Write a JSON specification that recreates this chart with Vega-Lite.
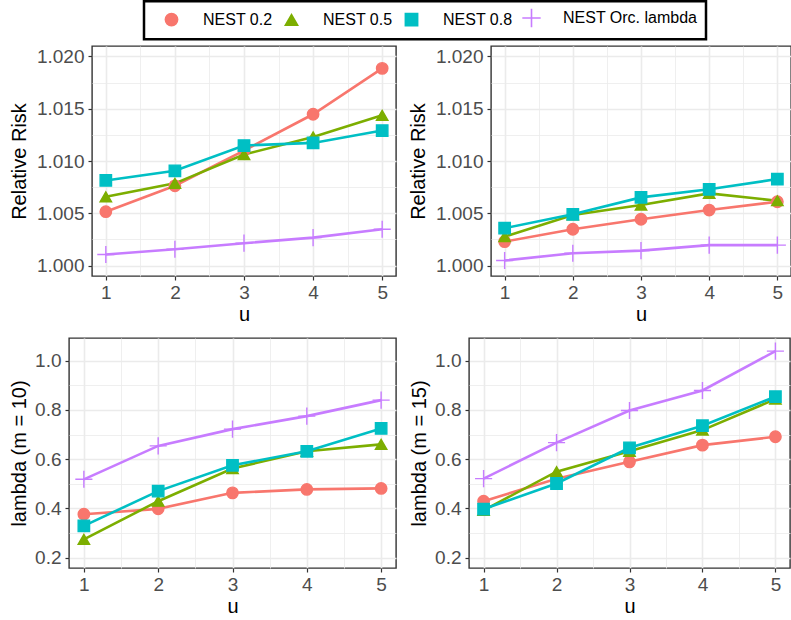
{
  "$schema": "https://vega.github.io/schema/vega-lite/v6.json",
  "padding": {"left": 7, "top": 0, "right": 0, "bottom": 0},
  "background": "white",
  "data": {"values": [
    {"panel": "A", "series": "NEST 0.2", "u": 1, "value": 1.00515},
    {"panel": "A", "series": "NEST 0.2", "u": 2, "value": 1.00763},
    {"panel": "A", "series": "NEST 0.2", "u": 3, "value": 1.0110},
    {"panel": "A", "series": "NEST 0.2", "u": 4, "value": 1.01447},
    {"panel": "A", "series": "NEST 0.2", "u": 5, "value": 1.01886},
    {"panel": "A", "series": "NEST 0.5", "u": 1, "value": 1.00658},
    {"panel": "A", "series": "NEST 0.5", "u": 2, "value": 1.00786},
    {"panel": "A", "series": "NEST 0.5", "u": 3, "value": 1.01062},
    {"panel": "A", "series": "NEST 0.5", "u": 4, "value": 1.0123},
    {"panel": "A", "series": "NEST 0.5", "u": 5, "value": 1.01437},
    {"panel": "A", "series": "NEST 0.8", "u": 1, "value": 1.00814},
    {"panel": "A", "series": "NEST 0.8", "u": 2, "value": 1.00906},
    {"panel": "A", "series": "NEST 0.8", "u": 3, "value": 1.01148},
    {"panel": "A", "series": "NEST 0.8", "u": 4, "value": 1.01173},
    {"panel": "A", "series": "NEST 0.8", "u": 5, "value": 1.01291},
    {"panel": "A", "series": "NEST Orc. lambda", "u": 1, "value": 1.00105},
    {"panel": "A", "series": "NEST Orc. lambda", "u": 2, "value": 1.00156},
    {"panel": "A", "series": "NEST Orc. lambda", "u": 3, "value": 1.00214},
    {"panel": "A", "series": "NEST Orc. lambda", "u": 4, "value": 1.00267},
    {"panel": "A", "series": "NEST Orc. lambda", "u": 5, "value": 1.00347},
    {"panel": "B", "series": "NEST 0.2", "u": 1, "value": 1.00229},
    {"panel": "B", "series": "NEST 0.2", "u": 2, "value": 1.00347},
    {"panel": "B", "series": "NEST 0.2", "u": 3, "value": 1.00443},
    {"panel": "B", "series": "NEST 0.2", "u": 4, "value": 1.00531},
    {"panel": "B", "series": "NEST 0.2", "u": 5, "value": 1.0061},
    {"panel": "B", "series": "NEST 0.5", "u": 1, "value": 1.00277},
    {"panel": "B", "series": "NEST 0.5", "u": 2, "value": 1.00484},
    {"panel": "B", "series": "NEST 0.5", "u": 3, "value": 1.00579},
    {"panel": "B", "series": "NEST 0.5", "u": 4, "value": 1.0069},
    {"panel": "B", "series": "NEST 0.5", "u": 5, "value": 1.0062},
    {"panel": "B", "series": "NEST 0.8", "u": 1, "value": 1.00357},
    {"panel": "B", "series": "NEST 0.8", "u": 2, "value": 1.0049},
    {"panel": "B", "series": "NEST 0.8", "u": 3, "value": 1.00652},
    {"panel": "B", "series": "NEST 0.8", "u": 4, "value": 1.00729},
    {"panel": "B", "series": "NEST 0.8", "u": 5, "value": 1.00827},
    {"panel": "B", "series": "NEST Orc. lambda", "u": 1, "value": 1.00048},
    {"panel": "B", "series": "NEST Orc. lambda", "u": 2, "value": 1.00118},
    {"panel": "B", "series": "NEST Orc. lambda", "u": 3, "value": 1.00143},
    {"panel": "B", "series": "NEST Orc. lambda", "u": 4, "value": 1.00195},
    {"panel": "B", "series": "NEST Orc. lambda", "u": 5, "value": 1.00195},
    {"panel": "C", "series": "NEST 0.2", "u": 1, "value": 0.376},
    {"panel": "C", "series": "NEST 0.2", "u": 2, "value": 0.398},
    {"panel": "C", "series": "NEST 0.2", "u": 3, "value": 0.463},
    {"panel": "C", "series": "NEST 0.2", "u": 4, "value": 0.477},
    {"panel": "C", "series": "NEST 0.2", "u": 5, "value": 0.481},
    {"panel": "C", "series": "NEST 0.5", "u": 1, "value": 0.274},
    {"panel": "C", "series": "NEST 0.5", "u": 2, "value": 0.429},
    {"panel": "C", "series": "NEST 0.5", "u": 3, "value": 0.562},
    {"panel": "C", "series": "NEST 0.5", "u": 4, "value": 0.632},
    {"panel": "C", "series": "NEST 0.5", "u": 5, "value": 0.66},
    {"panel": "C", "series": "NEST 0.8", "u": 1, "value": 0.329},
    {"panel": "C", "series": "NEST 0.8", "u": 2, "value": 0.47},
    {"panel": "C", "series": "NEST 0.8", "u": 3, "value": 0.575},
    {"panel": "C", "series": "NEST 0.8", "u": 4, "value": 0.632},
    {"panel": "C", "series": "NEST 0.8", "u": 5, "value": 0.725},
    {"panel": "C", "series": "NEST Orc. lambda", "u": 1, "value": 0.518},
    {"panel": "C", "series": "NEST Orc. lambda", "u": 2, "value": 0.654},
    {"panel": "C", "series": "NEST Orc. lambda", "u": 3, "value": 0.722},
    {"panel": "C", "series": "NEST Orc. lambda", "u": 4, "value": 0.775},
    {"panel": "C", "series": "NEST Orc. lambda", "u": 5, "value": 0.84},
    {"panel": "D", "series": "NEST 0.2", "u": 1, "value": 0.429},
    {"panel": "D", "series": "NEST 0.2", "u": 2, "value": 0.52},
    {"panel": "D", "series": "NEST 0.2", "u": 3, "value": 0.589},
    {"panel": "D", "series": "NEST 0.2", "u": 4, "value": 0.657},
    {"panel": "D", "series": "NEST 0.2", "u": 5, "value": 0.691},
    {"panel": "D", "series": "NEST 0.5", "u": 1, "value": 0.392},
    {"panel": "D", "series": "NEST 0.5", "u": 2, "value": 0.549},
    {"panel": "D", "series": "NEST 0.5", "u": 3, "value": 0.632},
    {"panel": "D", "series": "NEST 0.5", "u": 4, "value": 0.718},
    {"panel": "D", "series": "NEST 0.5", "u": 5, "value": 0.844},
    {"panel": "D", "series": "NEST 0.8", "u": 1, "value": 0.397},
    {"panel": "D", "series": "NEST 0.8", "u": 2, "value": 0.501},
    {"panel": "D", "series": "NEST 0.8", "u": 3, "value": 0.646},
    {"panel": "D", "series": "NEST 0.8", "u": 4, "value": 0.736},
    {"panel": "D", "series": "NEST 0.8", "u": 5, "value": 0.854},
    {"panel": "D", "series": "NEST Orc. lambda", "u": 1, "value": 0.521},
    {"panel": "D", "series": "NEST Orc. lambda", "u": 2, "value": 0.667},
    {"panel": "D", "series": "NEST Orc. lambda", "u": 3, "value": 0.798},
    {"panel": "D", "series": "NEST Orc. lambda", "u": 4, "value": 0.879},
    {"panel": "D", "series": "NEST Orc. lambda", "u": 5, "value": 1.039}
  ]},
  "config": {
    "font": "Liberation Sans",
    "view": {"stroke": "#333333", "strokeWidth": 1.4},
    "axis": {
      "domain": false,
      "gridColor": "#EBEBEB",
      "tickColor": "#333333",
      "tickSize": 4,
      "tickWidth": 1.2,
      "labelFont": "Liberation Sans",
      "labelFontSize": 19,
      "labelColor": "#4D4D4D",
      "labelOverlap": false,
      "labelFlush": false,
      "titleFont": "Liberation Sans",
      "titleFontSize": 20,
      "titleFontWeight": "normal",
      "titleColor": "black"
    },
    "axisX": {"labelPadding": 3, "titlePadding": 2},
    "axisY": {"labelPadding": 4, "titlePadding": 5}
  },
  "spacing": 12,
  "vconcat": [
    {
      "spacing": 0,
      "hconcat": [
        {"width": 1, "height": 1, "view": {"stroke": null, "fill": "white"}, "transform": [{"filter": "false"}], "mark": {"type": "point"}},
        {
          "spacing": 10,
          "hconcat": [
            {
              "width": 304, "height": 230,
              "transform": [{"filter": "datum.panel === 'A'"}],
              "encoding": {
                "x": {"field": "u", "type": "quantitative", "scale": {"domain": [0.8, 5.2], "nice": false, "zero": false},
                  "axis": {"title": "u", "values": [1, 1.5, 2, 2.5, 3, 3.5, 4, 4.5, 5],
                    "labelExpr": "datum.value % 1 === 0 ? format(datum.value, 'd') : ''",
                    "tickOpacity": {"condition": {"test": "datum.value % 1 !== 0", "value": 0}, "value": 1},
                    "gridWidth": {"condition": {"test": "datum.value % 1 !== 0", "value": 0.8}, "value": 1.6}}},
                "y": {"field": "value", "type": "quantitative", "scale": {"domain": [0.999, 1.021], "nice": false, "zero": false},
                  "axis": {"title": "Relative Risk", "titlePadding": 7, "values": [1, 1.0025, 1.005, 1.0075, 1.01, 1.0125, 1.015, 1.0175, 1.02],
                    "labelExpr": "abs(datum.value*200 - round(datum.value*200)) > 0.1 ? '' : format(datum.value, '.3f')",
                    "tickOpacity": {"condition": {"test": "abs(datum.value*200 - round(datum.value*200)) > 0.1", "value": 0}, "value": 1},
                    "gridWidth": {"condition": {"test": "abs(datum.value*200 - round(datum.value*200)) > 0.1", "value": 0.8}, "value": 1.6}}}
              },
              "layer": [
                {"mark": {"type": "line", "strokeWidth": 2.6},
                 "encoding": {"color": {"field": "series", "type": "nominal", "scale": {"domain": ["NEST 0.2", "NEST 0.5", "NEST 0.8", "NEST Orc. lambda"], "range": ["#F8766D", "#7CAE00", "#00BFC4", "#C77CFF"]},
                   "legend": {
                       "orient": "none", "legendX": 137, "legendY": -44.75, "direction": "horizontal", "title": null,
                       "labelFont": "Liberation Sans", "labelFontSize": 16, "labelColor": "black",
                       "symbolSize": 150, "symbolStrokeWidth": 2, "symbolOffset": 11, "labelOffset": 23.5,
                       "columnPadding": -11, "padding": 8.5,
                       "encode": {
                         "legend": {"update": {"stroke": {"value": "black"}, "strokeWidth": {"value": 2.5}, "fill": {"value": "white"}}},
                         "symbols": {"update": {
                         "fill": {"signal": "datum.value === 'NEST 0.2' ? '#F8766D' : datum.value === 'NEST 0.5' ? '#7CAE00' : datum.value === 'NEST 0.8' ? '#00BFC4' : '#C77CFF'"},
                         "stroke": {"signal": "datum.value === 'NEST 0.2' ? '#F8766D' : datum.value === 'NEST 0.5' ? '#7CAE00' : datum.value === 'NEST 0.8' ? '#00BFC4' : '#C77CFF'"},
                         "strokeWidth": {"value": 1.6},
                         "opacity": {"value": 1}
                       }}}
                     }}}},
                {"mark": {"type": "point", "filled": true, "opacity": 1, "size": 130, "strokeWidth": 1.4},
                 "encoding": {
                   "color": {"field": "series", "type": "nominal"},
                   "stroke": {"field": "series", "type": "nominal", "scale": {"domain": ["NEST 0.2", "NEST 0.5", "NEST 0.8", "NEST Orc. lambda"], "range": ["#F8766D", "#7CAE00", "#00BFC4", "#C77CFF"]}},
                   "shape": {"field": "series", "type": "nominal",
                     "scale": {"domain": ["NEST 0.2", "NEST 0.5", "NEST 0.8", "NEST Orc. lambda"], "range": ["circle", "triangle-up", "square", "M-1.5,0L1.5,0M0,-1.5L0,1.5"]}}
                 }}
              ]
            },
            {
              "width": 300, "height": 230,
              "transform": [{"filter": "datum.panel === 'B'"}],
              "encoding": {
                "x": {"field": "u", "type": "quantitative", "scale": {"domain": [0.8, 5.2], "nice": false, "zero": false},
                  "axis": {"title": "u", "values": [1, 1.5, 2, 2.5, 3, 3.5, 4, 4.5, 5],
                    "labelExpr": "datum.value % 1 === 0 ? format(datum.value, 'd') : ''",
                    "tickOpacity": {"condition": {"test": "datum.value % 1 !== 0", "value": 0}, "value": 1},
                    "gridWidth": {"condition": {"test": "datum.value % 1 !== 0", "value": 0.8}, "value": 1.6}}},
                "y": {"field": "value", "type": "quantitative", "scale": {"domain": [0.999, 1.021], "nice": false, "zero": false},
                  "axis": {"title": "Relative Risk", "titlePadding": 7, "values": [1, 1.0025, 1.005, 1.0075, 1.01, 1.0125, 1.015, 1.0175, 1.02],
                    "labelExpr": "abs(datum.value*200 - round(datum.value*200)) > 0.1 ? '' : format(datum.value, '.3f')",
                    "tickOpacity": {"condition": {"test": "abs(datum.value*200 - round(datum.value*200)) > 0.1", "value": 0}, "value": 1},
                    "gridWidth": {"condition": {"test": "abs(datum.value*200 - round(datum.value*200)) > 0.1", "value": 0.8}, "value": 1.6}}}
              },
              "layer": [
                {"mark": {"type": "line", "strokeWidth": 2.6},
                 "encoding": {"color": {"field": "series", "type": "nominal"}}},
                {"mark": {"type": "point", "filled": true, "opacity": 1, "size": 130, "strokeWidth": 1.4},
                 "encoding": {
                   "color": {"field": "series", "type": "nominal"},
                   "stroke": {"field": "series", "type": "nominal"},
                   "shape": {"field": "series", "type": "nominal"}
                 }}
              ]
            }
          ]
        }
      ]
    },
    {
      "spacing": 0,
      "hconcat": [
        {"width": 1, "height": 1, "view": {"stroke": null, "fill": "white"}, "transform": [{"filter": "false"}], "mark": {"type": "point"}},
        {
          "spacing": 11,
          "hconcat": [
            {
              "width": 327, "height": 230,
              "transform": [{"filter": "datum.panel === 'C'"}],
              "encoding": {
                "x": {"field": "u", "type": "quantitative", "scale": {"domain": [0.8, 5.2], "nice": false, "zero": false},
                  "axis": {"title": "u", "values": [1, 1.5, 2, 2.5, 3, 3.5, 4, 4.5, 5],
                    "labelExpr": "datum.value % 1 === 0 ? format(datum.value, 'd') : ''",
                    "tickOpacity": {"condition": {"test": "datum.value % 1 !== 0", "value": 0}, "value": 1},
                    "gridWidth": {"condition": {"test": "datum.value % 1 !== 0", "value": 0.8}, "value": 1.6}}},
                "y": {"field": "value", "type": "quantitative", "scale": {"domain": [0.1575, 1.0925], "nice": false, "zero": false},
                  "axis": {"title": "lambda (m = 10)", "values": [0.2, 0.3, 0.4, 0.5, 0.6, 0.7, 0.8, 0.9, 1.0],
                    "labelExpr": "abs(datum.value*5 - round(datum.value*5)) > 0.1 ? '' : format(datum.value, '.1f')",
                    "tickOpacity": {"condition": {"test": "abs(datum.value*5 - round(datum.value*5)) > 0.1", "value": 0}, "value": 1},
                    "gridWidth": {"condition": {"test": "abs(datum.value*5 - round(datum.value*5)) > 0.1", "value": 0.8}, "value": 1.6}}}
              },
              "layer": [
                {"mark": {"type": "line", "strokeWidth": 2.6},
                 "encoding": {"color": {"field": "series", "type": "nominal"}}},
                {"mark": {"type": "point", "filled": true, "opacity": 1, "size": 130, "strokeWidth": 1.4},
                 "encoding": {
                   "color": {"field": "series", "type": "nominal"},
                   "stroke": {"field": "series", "type": "nominal"},
                   "shape": {"field": "series", "type": "nominal"}
                 }}
              ]
            },
            {
              "width": 321, "height": 230,
              "transform": [{"filter": "datum.panel === 'D'"}],
              "encoding": {
                "x": {"field": "u", "type": "quantitative", "scale": {"domain": [0.8, 5.2], "nice": false, "zero": false},
                  "axis": {"title": "u", "values": [1, 1.5, 2, 2.5, 3, 3.5, 4, 4.5, 5],
                    "labelExpr": "datum.value % 1 === 0 ? format(datum.value, 'd') : ''",
                    "tickOpacity": {"condition": {"test": "datum.value % 1 !== 0", "value": 0}, "value": 1},
                    "gridWidth": {"condition": {"test": "datum.value % 1 !== 0", "value": 0.8}, "value": 1.6}}},
                "y": {"field": "value", "type": "quantitative", "scale": {"domain": [0.1575, 1.0925], "nice": false, "zero": false},
                  "axis": {"title": "lambda (m = 15)", "values": [0.2, 0.3, 0.4, 0.5, 0.6, 0.7, 0.8, 0.9, 1.0],
                    "labelExpr": "abs(datum.value*5 - round(datum.value*5)) > 0.1 ? '' : format(datum.value, '.1f')",
                    "tickOpacity": {"condition": {"test": "abs(datum.value*5 - round(datum.value*5)) > 0.1", "value": 0}, "value": 1},
                    "gridWidth": {"condition": {"test": "abs(datum.value*5 - round(datum.value*5)) > 0.1", "value": 0.8}, "value": 1.6}}}
              },
              "layer": [
                {"mark": {"type": "line", "strokeWidth": 2.6},
                 "encoding": {"color": {"field": "series", "type": "nominal"}}},
                {"mark": {"type": "point", "filled": true, "opacity": 1, "size": 130, "strokeWidth": 1.4},
                 "encoding": {
                   "color": {"field": "series", "type": "nominal"},
                   "stroke": {"field": "series", "type": "nominal"},
                   "shape": {"field": "series", "type": "nominal"}
                 }}
              ]
            }
          ]
        }
      ]
    }
  ]
}
